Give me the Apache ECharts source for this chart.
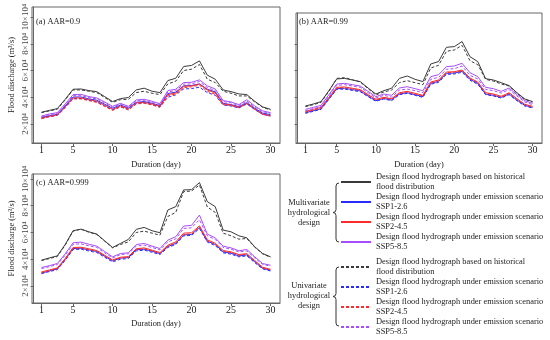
<!DOCTYPE html>
<html><head><meta charset="utf-8">
<script src="https://cdn.jsdelivr.net/npm/echarts@6/dist/echarts.min.js"></script>
<style>html,body{margin:0;padding:0;background:#fff}#c{width:550px;height:340px}</style>
</head><body><div id="c"></div>
<script>
// Duration (day)
const days = [1,2,3,4,5,6,7,8,9,10,11,12,13,14,15,16,17,18,19,20,21,22,23,24,25,26,27,28,29,30];
const xTicks = [1,5,10,15,20,25,30];
const yTicks = [2,4,6,8,10];
// Flood discharge, units of 10^4 m3/s
// (a) AAR=0.9
const aMH   = [2.88,3.02,3.15,3.85,4.6,4.62,4.5,4.42,4.05,3.68,3.9,3.98,4.55,4.68,4.45,4.35,5.25,5.42,6.3,6.38,6.72,5.65,5.35,4.55,4.42,4.25,4.2,3.7,3.28,3.1];
const aM126 = [2.5,2.62,2.72,3.35,4.02,4.02,3.88,3.78,3.48,3.18,3.42,3.2,3.62,3.68,3.55,3.38,4.28,4.38,4.85,4.88,5.0,4.6,4.4,3.55,3.45,3.3,3.6,3.18,2.82,2.7];
const aM245 = [2.45,2.58,2.68,3.28,3.95,3.95,3.82,3.7,3.4,3.1,3.35,3.15,3.58,3.62,3.5,3.32,4.2,4.32,4.82,4.85,4.98,4.55,4.32,3.5,3.42,3.25,3.55,3.12,2.75,2.62];
const aM585 = [2.6,2.75,2.85,3.5,4.2,4.22,4.05,3.95,3.65,3.32,3.55,3.32,3.8,3.85,3.7,3.52,4.5,4.6,5.1,5.12,5.3,4.85,4.62,3.75,3.65,3.45,3.82,3.35,2.98,2.85];
const aUH   = [2.85,2.98,3.1,3.8,4.55,4.55,4.45,4.35,3.98,3.62,3.82,3.85,4.35,4.45,4.3,4.2,5.0,5.2,6.0,6.1,6.45,5.35,5.1,4.45,4.3,4.1,4.1,3.65,3.25,3.05];
const aU126 = [2.42,2.55,2.65,3.25,3.9,3.9,3.78,3.65,3.35,3.05,3.3,3.08,3.52,3.58,3.45,3.28,4.0,4.18,4.62,4.65,4.75,4.35,4.15,3.42,3.35,3.2,3.5,3.08,2.72,2.6];
const aU245 = [2.4,2.55,2.65,3.22,3.88,3.88,3.75,3.62,3.32,3.02,3.28,3.05,3.5,3.55,3.42,3.25,4.1,4.25,4.72,4.78,4.9,4.45,4.22,3.45,3.38,3.22,3.52,3.1,2.72,2.58];
const aU585 = [2.55,2.7,2.8,3.42,4.12,4.12,3.98,3.88,3.58,3.25,3.5,3.28,3.72,3.78,3.62,3.45,4.4,4.5,4.98,5.0,5.18,4.72,4.5,3.68,3.58,3.38,3.72,3.28,2.92,2.8];
// (b) AAR=0.99
const bMH   = [3.35,3.5,3.68,4.5,5.38,5.42,5.3,5.18,4.7,4.25,4.5,4.68,5.42,5.6,5.35,5.18,6.5,6.68,7.75,7.8,8.18,7.05,6.68,5.4,5.3,5.1,4.88,4.35,3.88,3.68];
const bM126 = [2.85,3.0,3.15,3.9,4.65,4.68,4.58,4.48,4.1,3.75,3.92,3.8,4.25,4.35,4.2,4.05,5.05,5.2,5.8,5.82,5.95,5.35,5.05,4.25,4.15,4.0,4.25,3.8,3.4,3.25];
const bM245 = [2.95,3.1,3.25,4.0,4.75,4.78,4.68,4.58,4.2,3.85,4.0,3.9,4.35,4.45,4.3,4.15,5.15,5.3,5.9,5.92,6.05,5.45,5.15,4.35,4.25,4.08,4.35,3.9,3.48,3.32];
const bM585 = [3.1,3.25,3.4,4.2,5.0,5.05,4.95,4.85,4.45,4.05,4.25,4.15,4.7,4.8,4.65,4.5,5.55,5.7,6.3,6.35,6.55,5.85,5.55,4.75,4.65,4.45,4.7,4.2,3.75,3.55];
const bUH   = [3.3,3.45,3.62,4.45,5.42,5.48,5.32,5.15,4.65,4.18,4.4,4.55,5.1,5.25,5.1,4.95,6.2,6.4,7.45,7.55,7.9,6.75,6.45,5.35,5.22,5.0,4.85,4.3,3.85,3.65];
const bU126 = [2.8,2.95,3.1,3.85,4.6,4.62,4.52,4.42,4.05,3.7,3.88,3.75,4.2,4.3,4.15,4.0,4.98,5.12,5.72,5.75,5.88,5.28,4.98,4.2,4.1,3.95,4.2,3.75,3.35,3.2];
const bU245 = [2.9,3.05,3.2,3.95,4.7,4.72,4.62,4.52,4.15,3.8,3.95,3.85,4.3,4.4,4.25,4.1,5.1,5.25,5.85,5.88,6.0,5.4,5.1,4.3,4.2,4.03,4.3,3.85,3.44,3.28];
const bU585 = [3.0,3.15,3.3,4.1,4.9,4.95,4.85,4.75,4.35,3.95,4.15,4.02,4.55,4.62,4.5,4.35,5.35,5.5,6.1,6.15,6.35,5.65,5.38,4.6,4.5,4.32,4.58,4.1,3.65,3.45];
// (c) AAR=0.999
const cMH   = [3.93,4.1,4.25,5.1,6.13,6.25,6.05,5.88,5.38,4.88,5.18,5.48,6.23,6.38,6.13,5.98,7.68,7.93,9.18,9.2,9.73,8.3,7.93,6.18,6.05,5.75,5.6,4.93,4.43,4.18];
const cM126 = [2.97,3.12,3.28,3.98,4.8,4.82,4.7,4.58,4.22,3.88,4.08,4.12,4.7,4.75,4.6,4.42,4.95,5.18,5.82,5.85,6.38,5.35,5.1,4.55,4.45,4.25,4.32,3.82,3.32,3.18];
const cM245 = [3.05,3.2,3.35,4.05,4.88,4.9,4.78,4.65,4.3,3.95,4.15,4.2,4.78,4.85,4.68,4.5,5.05,5.3,5.95,5.98,6.5,5.45,5.2,4.65,4.55,4.35,4.42,3.9,3.4,3.25];
const cM585 = [3.38,3.52,3.68,4.4,5.23,5.28,5.12,4.98,4.58,4.18,4.43,4.48,5.1,5.18,4.98,4.8,5.43,5.68,6.48,6.53,7.3,5.88,5.6,4.98,4.85,4.63,4.73,4.18,3.68,3.55];
const cUH   = [3.9,4.05,4.2,5.05,6.1,6.25,6.02,5.85,5.35,4.85,5.1,5.3,6.0,6.1,5.95,5.8,7.2,7.5,9.05,9.1,9.55,7.9,7.5,5.95,5.75,5.5,5.55,4.9,4.4,4.15];
const cU126 = [2.92,3.08,3.22,3.92,4.72,4.75,4.62,4.5,4.15,3.8,4.0,4.05,4.62,4.68,4.52,4.35,4.88,5.1,5.75,5.78,6.3,5.28,5.02,4.48,4.38,4.18,4.25,3.75,3.28,3.12];
const cU245 = [3.0,3.15,3.3,4.0,4.82,4.85,4.72,4.6,4.25,3.9,4.1,4.15,4.72,4.8,4.62,4.45,4.98,5.22,5.85,5.9,6.4,5.38,5.12,4.6,4.5,4.3,4.38,3.85,3.35,3.2];
const cU585 = [3.3,3.45,3.6,4.3,5.12,5.15,5.0,4.88,4.48,4.1,4.35,4.4,4.98,5.05,4.88,4.7,5.3,5.52,6.3,6.35,6.95,5.75,5.48,4.88,4.75,4.55,4.62,4.1,3.62,3.48];

const seriesKeys = ['MH','M126','M245','M585','UH','U126','U245','U585'];
const legendText = {
  MH:'Design flood hydrograph based on historical\nflood distribution',
  M126:'Design flood hydrograph under emission scenario\nSSP1-2.6',
  M245:'Design flood hydrograph under emission scenario\nSSP2-4.5',
  M585:'Design flood hydrograph under emission scenario\nSSP5-8.5',
  UH:'Design flood hydrograph based on historical\nflood distribution',
  U126:'Design flood hydrograph under emission scenario\nSSP1-2.6',
  U245:'Design flood hydrograph under emission scenario\nSSP2-4.5',
  U585:'Design flood hydrograph under emission scenario\nSSP5-8.5'
};
const panels = [
  {label:'(a) AAR=0.9', data:{MH:aMH,M126:aM126,M245:aM245,M585:aM585,UH:aUH,U126:aU126,U245:aU245,U585:aU585}},
  {label:'(b) AAR=0.99', data:{MH:bMH,M126:bM126,M245:bM245,M585:bM585,UH:bUH,U126:bU126,U245:bU245,U585:bU585}},
  {label:'(c) AAR=0.999', data:{MH:cMH,M126:cM126,M245:cM245,M585:cM585,UH:cUH,U126:cU126,U245:cU245,U585:cU585}}
];

const FONT = 'Liberation Serif';
const TXT = 8.4;
const colors = {MH:'#3a3a3a',M126:'#2a2aff',M245:'#ff2a2a',M585:'#a64dff',UH:'#3a3a3a',U126:'#2a2aff',U245:'#ff2a2a',U585:'#a64dff'};
const grids = [
  {left:32, top:7, width:248, height:136},
  {left:296, top:13, width:246, height:130},
  {left:32, top:174, width:248, height:129}
];
const yRanges = [[0.58,10.75],[0.58,10.32],[0.73,10.37]];

const grid = grids.map(g => Object.assign({show:true, borderColor:'#666', borderWidth:1}, g));
const xAxis = grids.map((g,i) => ({
  type:'value', gridIndex:i, min:-0.2, max:31.2,
  name:'Duration (day)', nameLocation:'middle', nameGap: i===2 ? 17 : 18,
  nameTextStyle:{fontFamily:FONT, fontSize:TXT, color:'#222'},
  axisLine:{show:true, lineStyle:{color:'#666'}},
  axisTick:{show:true, length:3, customValues:xTicks, lineStyle:{color:'#666'}},
  axisLabel:{customValues:xTicks, fontFamily:FONT, fontSize:10, color:'#222', margin:2},
  splitLine:{show:false}
}));
const yAxis = grids.map((g,i) => ({
  type:'value', gridIndex:i, min:yRanges[i][0], max:yRanges[i][1],
  name: i===1 ? '' : 'Flood discharge (m³/s)', nameLocation:'middle', nameGap:16, nameRotate:90,
  nameTextStyle:{fontFamily:FONT, fontSize:TXT, color:'#222'},
  axisLine:{show:true, lineStyle:{color:'#666'}},
  axisTick:{show:true, length:3, customValues: i===1 ? [2,4,6,8] : yTicks, lineStyle:{color:'#666'}},
  axisLabel:{show: i!==1, customValues:yTicks, rotate:90, fontFamily:FONT, fontSize:9, color:'#444', margin:2,
    formatter: v => v + '×10⁴'},
  splitLine:{show:false}
}));

const series = [];
panels.forEach((p,i) => {
  seriesKeys.forEach(k => {
    series.push({
      type:'line', name:k, xAxisIndex:i, yAxisIndex:i, symbol:'none', animation:false,
      data: days.map((d,j) => [d, p.data[k][j]]),
      lineStyle:{color:colors[k], width:1, type: k[0]==='U' ? [3,2] : 'solid'},
      itemStyle:{color:colors[k]}
    });
  });
});

const legendBase = {
  orient:'vertical', left:340, itemWidth:30, itemHeight:10, itemGap:0, padding:0,
  itemStyle:{opacity:0},
  textStyle:{fontFamily:FONT, fontSize:TXT, lineHeight:10, color:'#222'},
  formatter: n => legendText[n], selectedMode:false
};
const legend = [
  Object.assign({}, legendBase, {top:172, data:['MH','M126','M245','M585']}),
  Object.assign({}, legendBase, {top:257, data:['UH','U126','U245','U585']})
];

function brace(x, y0, y1) {
  const m = (y0+y1)/2, xm = x-3, xt = x-6;
  const st = {stroke:'#333', fill:null, lineWidth:1};
  return [
    {type:'bezierCurve', shape:{x1:x, y1:y0, x2:xm, y2:y0+3, cpx1:xm, cpy1:y0}, style:st},
    {type:'line', shape:{x1:xm, y1:y0+3, x2:xm, y2:m-3}, style:st},
    {type:'bezierCurve', shape:{x1:xm, y1:m-3, x2:xt, y2:m, cpx1:xm, cpy1:m}, style:st},
    {type:'bezierCurve', shape:{x1:xt, y1:m, x2:xm, y2:m+3, cpx1:xm, cpy1:m}, style:st},
    {type:'line', shape:{x1:xm, y1:m+3, x2:xm, y2:y1-3}, style:st},
    {type:'bezierCurve', shape:{x1:xm, y1:y1-3, x2:x, y2:y1, cpx1:xm, cpy1:y1}, style:st}
  ];
}

const option = {
  animation:false,
  title: [
    {text:panels[0].label, left:36, top:18},
    {text:panels[1].label, left:299, top:18},
    {text:panels[2].label, left:36, top:179}
  ].map(t => Object.assign(t, {padding:0, textStyle:{fontFamily:FONT, fontSize:TXT, fontWeight:'normal', color:'#222'}})),
  grid, xAxis, yAxis, series, legend,
  graphic: [
    {type:'text', style:{text:'Multivariate\nhydrological\ndesign', x:309, y:213, align:'center', verticalAlign:'middle', font:TXT+'px "Liberation Serif"', lineHeight:10, fill:'#222'}},
    {type:'text', style:{text:'Univariate\nhydrological\ndesign', x:309, y:296, align:'center', verticalAlign:'middle', font:TXT+'px "Liberation Serif"', lineHeight:10, fill:'#222'}}
  ].concat(brace(339,183,242), brace(339,267,326))
};
const chart = echarts.init(document.getElementById('c'), null, {renderer:'canvas'});
chart.setOption(option);
</script></body></html>
